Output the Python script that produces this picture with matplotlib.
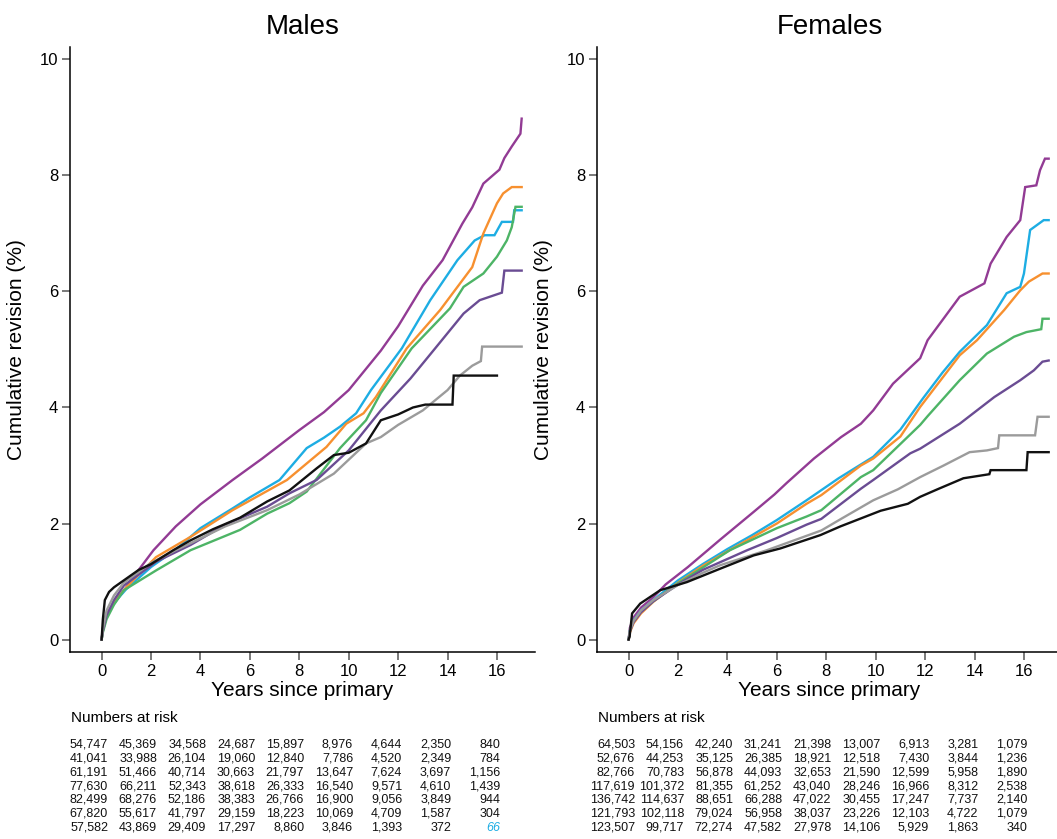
import matplotlib
matplotlib.use("Agg")
import matplotlib.pyplot as plt
import matplotlib.transforms as mtransforms

plt.rcParams["font.family"] = ["Liberation Sans", "DejaVu Sans"]

colors = ["#923B94", "#1DADE3", "#F7902F", "#4DB466", "#6A4C93", "#9B9B9B", "#111111"]

# ---- Males: cumulative revision (%) by years since primary ----
m_purple_t = [0, 0.05, 0.2, 0.5, 1.0, 1.5, 2.1, 3.0, 4.0, 5.3, 6.5, 8.0, 9.0, 10.0, 11.3, 12.0, 12.5, 13.0, 13.8, 14.6, 15.0, 15.45, 16.1, 16.3, 16.6, 16.95, 17.0]
m_purple_v = [0, 0.2, 0.45, 0.62, 0.9, 1.2, 1.54, 1.95, 2.33, 2.75, 3.12, 3.61, 3.92, 4.3, 4.98, 5.4, 5.75, 6.1, 6.54, 7.17, 7.45, 7.86, 8.1, 8.3, 8.5, 8.72, 8.98]
m_blue_t = [0, 0.05, 0.2, 0.5, 1.0, 2.0, 3.0, 4.0, 5.3, 6.0, 7.2, 8.3, 9.0, 9.65, 10.3, 10.9, 11.3, 12.15, 13.3, 14.4, 15.1, 15.5, 15.9, 16.2, 16.65, 16.7, 17.0]
m_blue_v = [0, 0.15, 0.4, 0.63, 0.87, 1.25, 1.55, 1.92, 2.26, 2.45, 2.75, 3.3, 3.48, 3.67, 3.9, 4.3, 4.53, 5.02, 5.85, 6.54, 6.88, 6.97, 6.97, 7.2, 7.2, 7.4, 7.4]
m_orange_t = [0, 0.05, 0.2, 0.5, 1.0, 2.2, 3.6, 5.3, 7.5, 9.1, 9.9, 10.6, 11.1, 12.35, 13.7, 15.0, 15.45, 16.0, 16.25, 16.6, 17.0]
m_orange_v = [0, 0.15, 0.4, 0.65, 0.9, 1.42, 1.77, 2.23, 2.75, 3.32, 3.72, 3.9, 4.18, 5.02, 5.68, 6.42, 7.0, 7.52, 7.69, 7.8, 7.8]
m_green_t = [0, 0.05, 0.2, 0.5, 0.9, 2.2, 3.6, 5.6, 6.7, 7.6, 8.3, 9.65, 10.7, 11.3, 12.55, 14.1, 14.65, 15.45, 16.0, 16.4, 16.6, 16.75, 17.0]
m_green_v = [0, 0.12, 0.35, 0.6, 0.85, 1.19, 1.54, 1.89, 2.17, 2.35, 2.55, 3.3, 3.78, 4.25, 5.02, 5.71, 6.08, 6.31, 6.6, 6.88, 7.11, 7.46, 7.46]
m_dpurple_t = [0, 0.05, 0.2, 0.5, 0.9, 2.2, 3.6, 5.0, 6.7, 7.6, 8.7, 10.0, 11.3, 12.5, 13.5, 14.65, 15.3, 16.2, 16.3, 17.0]
m_dpurple_v = [0, 0.15, 0.42, 0.68, 0.93, 1.34, 1.63, 1.98, 2.29, 2.52, 2.75, 3.26, 3.95, 4.5, 5.02, 5.62, 5.85, 5.98, 6.36, 6.36]
m_grey_t = [0, 0.05, 0.2, 0.5, 0.9, 2.0, 3.0, 3.6, 5.0, 6.7, 8.0, 9.4, 10.7, 11.3, 12.0, 13.0, 14.0, 14.5, 15.0, 15.35, 15.4, 17.0]
m_grey_v = [0, 0.18, 0.5, 0.76, 0.98, 1.32, 1.54, 1.66, 1.95, 2.23, 2.5, 2.86, 3.38, 3.49, 3.7, 3.95, 4.3, 4.55, 4.72, 4.8, 5.05, 5.05]
m_black_t = [0, 0.05, 0.13, 0.3, 0.5, 0.9, 1.5, 2.0, 2.9, 3.6, 4.5, 5.6, 6.7, 7.6, 8.7, 9.4, 10.0, 10.7, 11.3, 12.0, 12.6, 13.1, 14.2, 14.25, 16.0]
m_black_v = [0, 0.35, 0.68, 0.82, 0.9, 1.02, 1.2, 1.3, 1.54, 1.71, 1.9, 2.1, 2.38, 2.57, 2.95, 3.18, 3.22, 3.38, 3.78, 3.88, 4.0, 4.05, 4.05, 4.55, 4.55]

# ---- Females ----
f_purple_t = [0, 0.05, 0.2, 0.5, 1.0, 1.5, 2.4, 3.7, 5.06, 5.9, 6.4, 7.5, 8.6, 9.4, 9.9, 10.7, 11.8, 12.1, 13.4, 14.4, 14.65, 15.3, 15.85, 16.05, 16.5, 16.65, 16.85, 17.0]
f_purple_v = [0, 0.2, 0.38, 0.55, 0.73, 0.95, 1.25, 1.72, 2.2, 2.5, 2.7, 3.12, 3.49, 3.72, 3.95, 4.41, 4.85, 5.16, 5.91, 6.14, 6.48, 6.94, 7.23, 7.8, 7.83, 8.09, 8.29, 8.29]
f_blue_t = [0, 0.05, 0.2, 0.5, 1.0, 2.0, 3.0, 4.0, 5.0, 6.0, 7.2, 8.5, 9.9, 11.0, 11.9, 12.7, 13.4, 14.5, 15.3, 15.85, 16.0, 16.25, 16.8, 17.0]
f_blue_v = [0, 0.15, 0.33, 0.5, 0.68, 1.02, 1.3, 1.56, 1.8, 2.06, 2.4, 2.78, 3.15, 3.62, 4.15, 4.6, 4.96, 5.42, 5.97, 6.08, 6.31, 7.06, 7.23, 7.23]
f_orange_t = [0, 0.05, 0.2, 0.5, 1.0, 2.0, 3.0, 4.0, 5.0, 6.0, 7.2, 7.8, 9.4, 9.9, 11.0, 11.8, 13.4, 14.1, 15.2, 15.85, 16.2, 16.75, 17.0]
f_orange_v = [0, 0.12, 0.28, 0.45, 0.65, 0.98, 1.27, 1.52, 1.76, 2.0, 2.34, 2.49, 3.0, 3.12, 3.5, 4.01, 4.9, 5.16, 5.68, 6.02, 6.17, 6.31, 6.31]
f_green_t = [0, 0.05, 0.2, 0.5, 1.0, 2.0, 3.0, 4.1, 5.0, 6.0, 7.2, 7.8, 9.4, 9.9, 11.8, 12.1, 13.4, 14.5, 15.6, 16.1, 16.7, 16.75, 17.0]
f_green_v = [0, 0.15, 0.32, 0.48, 0.66, 0.97, 1.24, 1.54, 1.72, 1.92, 2.12, 2.23, 2.8, 2.92, 3.7, 3.85, 4.47, 4.93, 5.22, 5.3, 5.35, 5.53, 5.53]
f_dpurple_t = [0, 0.05, 0.2, 0.5, 1.0, 2.0, 3.0, 4.8, 6.0, 7.2, 7.8, 9.4, 9.9, 11.4, 11.8, 13.4, 14.8, 15.85, 16.4, 16.75, 17.0]
f_dpurple_v = [0, 0.14, 0.3, 0.47, 0.66, 0.95, 1.2, 1.54, 1.75, 1.98, 2.08, 2.6, 2.75, 3.21, 3.29, 3.72, 4.18, 4.47, 4.64, 4.79, 4.81]
f_grey_t = [0, 0.05, 0.2, 0.5, 1.0, 2.0, 3.0, 3.7, 5.6, 7.8, 8.6, 9.9, 10.9, 11.8, 12.75, 13.8, 14.5, 14.95, 15.0, 16.45, 16.55, 17.0]
f_grey_v = [0, 0.15, 0.32, 0.5, 0.68, 0.94, 1.15, 1.28, 1.54, 1.88, 2.08, 2.4, 2.59, 2.8, 3.0, 3.23, 3.26, 3.3, 3.52, 3.52, 3.84, 3.84]
f_black_t = [0, 0.04, 0.14, 0.47, 1.28, 2.36, 3.7, 5.06, 6.14, 7.76, 8.57, 10.2, 11.3, 11.8, 12.5, 13.55, 14.6, 14.65, 16.1, 16.15, 17.0]
f_black_v = [0, 0.05, 0.45, 0.62, 0.85, 0.99, 1.22, 1.45, 1.57, 1.8, 1.95, 2.22, 2.34, 2.46, 2.59, 2.78, 2.85, 2.92, 2.92, 3.23, 3.23]

# ---- Numbers at risk (years 0, 2, ..., 16) ----
risk_years = [0, 2, 4, 6, 8, 10, 12, 14, 16]
males_risk = [
    [54747, 45369, 34568, 24687, 15897, 8976, 4644, 2350, 840],
    [41041, 33988, 26104, 19060, 12840, 7786, 4520, 2349, 784],
    [61191, 51466, 40714, 30663, 21797, 13647, 7624, 3697, 1156],
    [77630, 66211, 52343, 38618, 26333, 16540, 9571, 4610, 1439],
    [82499, 68276, 52186, 38383, 26766, 16900, 9056, 3849, 944],
    [67820, 55617, 41797, 29159, 18223, 10069, 4709, 1587, 304],
    [57582, 43869, 29409, 17297, 8860, 3846, 1393, 372, 66],
]
females_risk = [
    [64503, 54156, 42240, 31241, 21398, 13007, 6913, 3281, 1079],
    [52676, 44253, 35125, 26385, 18921, 12518, 7430, 3844, 1236],
    [82766, 70783, 56878, 44093, 32653, 21590, 12599, 5958, 1890],
    [117619, 101372, 81355, 61252, 43040, 28246, 16966, 8312, 2538],
    [136742, 114637, 88651, 66288, 47022, 30455, 17247, 7737, 2140],
    [121793, 102118, 79024, 56958, 38037, 23226, 12103, 4722, 1079],
    [123507, 99717, 72274, 47582, 27978, 14106, 5929, 1863, 340],
]

males_curves = [
    (m_purple_t, m_purple_v), (m_blue_t, m_blue_v), (m_orange_t, m_orange_v),
    (m_green_t, m_green_v), (m_dpurple_t, m_dpurple_v), (m_grey_t, m_grey_v),
    (m_black_t, m_black_v),
]
females_curves = [
    (f_purple_t, f_purple_v), (f_blue_t, f_blue_v), (f_orange_t, f_orange_v),
    (f_green_t, f_green_v), (f_dpurple_t, f_dpurple_v), (f_grey_t, f_grey_v),
    (f_black_t, f_black_v),
]

W, H = 1057, 839
fig = plt.figure(figsize=(W / 100, H / 100), dpi=100)

panels = [
    ("Males", 70, males_curves, males_risk),
    ("Females", 597, females_curves, females_risk),
]

for title, left_px, curves, risk in panels:
    ax = fig.add_axes([left_px / W, 1 - 651.7 / H, 465 / W, 605 / H])

    for (t, v), c in zip(curves, colors):
        ax.plot(t, v, color=c, lw=1.7, solid_joinstyle="miter")

    ax.set_xlim(-1.28, 17.54)
    ax.set_ylim(-0.21, 10.22)
    ax.set_xticks(range(0, 17, 2))
    ax.set_yticks(range(0, 11, 2))
    for s in ["top", "right"]:
        ax.spines[s].set_visible(False)
    for s in ["left", "bottom"]:
        ax.spines[s].set_linewidth(1.1)
    ax.tick_params(direction="out", length=5.5, width=1.1, color="#555555",
                   labelsize=12, pad=3)
    ax.set_title(title, fontsize=20, pad=9)
    ax.set_xlabel("Years since primary", fontsize=15, labelpad=2)
    ax.set_ylabel("Cumulative revision (%)", fontsize=15, labelpad=10)

    # numbers at risk table
    trans = mtransforms.blended_transform_factory(ax.transData, fig.transFigure)
    fig.text(left_px / W + 0.0005, 1 - 718 / H, "Numbers at risk", fontsize=11,
             ha="left", va="center")
    for i, row in enumerate(risk):
        y = 1 - (743.3 + 4.5 + 13.8 * i) / H
        for j, (yr, n) in enumerate(zip(risk_years, row)):
            style = "normal"
            col = "#111111"
            if title == "Males" and i == 6 and j == 8:
                style = "italic"
                col = "#1DADE3"
            ax.text(yr * 0.992 + 0.26, y, f"{n:,}", transform=trans, fontsize=9,
                    ha="right", va="baseline", color=col, style=style, clip_on=False)

fig.savefig("out.png", dpi=100)
